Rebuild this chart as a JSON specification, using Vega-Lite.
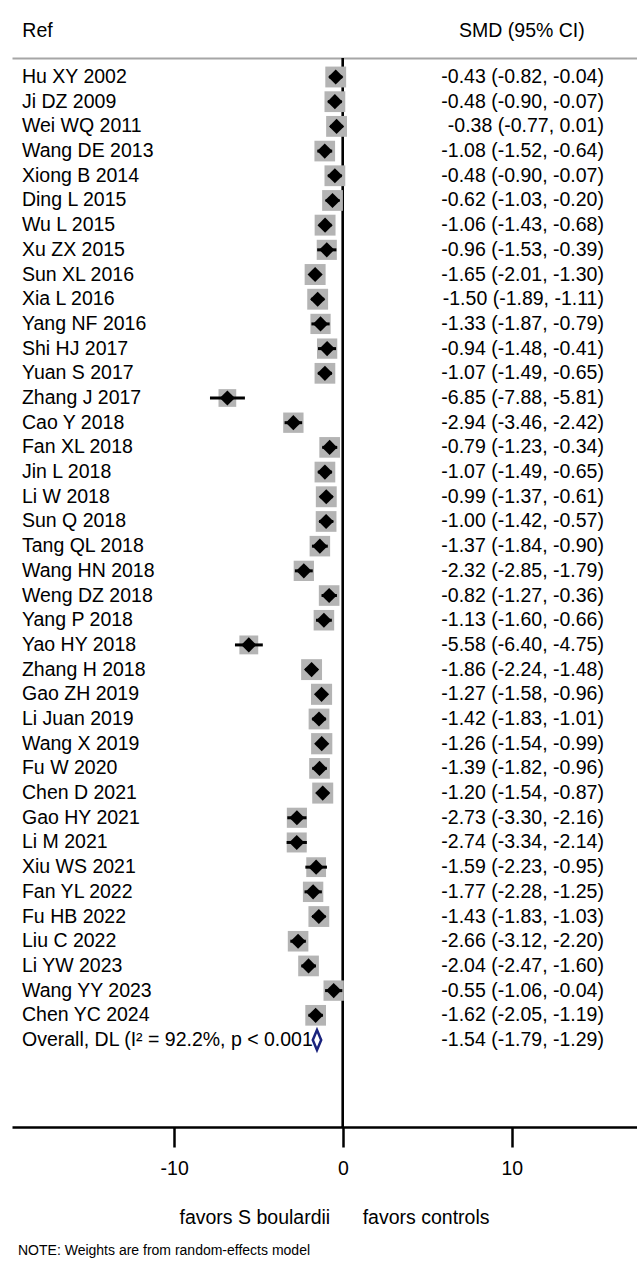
{
  "$schema": "https://vega.github.io/schema/vega-lite/v6.json",
  "autosize": "none",
  "padding": {"left": 12, "top": 58, "right": 0, "bottom": 150},
  "width": 625,
  "height": 1069,
  "config": {
    "view": {"stroke": null},
    "font": "Liberation Sans",
    "locale": {"number": {"decimal": ".", "thousands": ",", "grouping": [3], "currency": ["$", ""], "minus": "-"}}
  },
  "title": {
    "text": "NOTE: Weights are from random-effects model",
    "orient": "bottom",
    "anchor": "start",
    "frame": "group",
    "fontSize": 14,
    "fontWeight": "normal",
    "color": "#000000",
    "offset": 17,
    "dx": 6
  },
  "data": {
    "values": [
      {"study": "Hu XY 2002", "smd": -0.43, "lo": -0.82, "hi": -0.04, "weight": 2.63},
      {"study": "Ji DZ 2009", "smd": -0.48, "lo": -0.90, "hi": -0.07, "weight": 2.61},
      {"study": "Wei WQ 2011", "smd": -0.38, "lo": -0.77, "hi": 0.01, "weight": 2.63},
      {"study": "Wang DE 2013", "smd": -1.08, "lo": -1.52, "hi": -0.64, "weight": 2.58},
      {"study": "Xiong B 2014", "smd": -0.48, "lo": -0.90, "hi": -0.07, "weight": 2.61},
      {"study": "Ding L 2015", "smd": -0.62, "lo": -1.03, "hi": -0.20, "weight": 2.61},
      {"study": "Wu L 2015", "smd": -1.06, "lo": -1.43, "hi": -0.68, "weight": 2.64},
      {"study": "Xu ZX 2015", "smd": -0.96, "lo": -1.53, "hi": -0.39, "weight": 2.45},
      {"study": "Sun XL 2016", "smd": -1.65, "lo": -2.01, "hi": -1.30, "weight": 2.66},
      {"study": "Xia L 2016", "smd": -1.50, "lo": -1.89, "hi": -1.11, "weight": 2.63},
      {"study": "Yang NF 2016", "smd": -1.33, "lo": -1.87, "hi": -0.79, "weight": 2.48},
      {"study": "Shi HJ 2017", "smd": -0.94, "lo": -1.48, "hi": -0.41, "weight": 2.49},
      {"study": "Yuan S 2017", "smd": -1.07, "lo": -1.49, "hi": -0.65, "weight": 2.60},
      {"study": "Zhang J 2017", "smd": -6.85, "lo": -7.88, "hi": -5.81, "weight": 1.90},
      {"study": "Cao Y 2018", "smd": -2.94, "lo": -3.46, "hi": -2.42, "weight": 2.50},
      {"study": "Fan XL 2018", "smd": -0.79, "lo": -1.23, "hi": -0.34, "weight": 2.58},
      {"study": "Jin L 2018", "smd": -1.07, "lo": -1.49, "hi": -0.65, "weight": 2.60},
      {"study": "Li W 2018", "smd": -0.99, "lo": -1.37, "hi": -0.61, "weight": 2.64},
      {"study": "Sun Q 2018", "smd": -1.00, "lo": -1.42, "hi": -0.57, "weight": 2.60},
      {"study": "Tang QL 2018", "smd": -1.37, "lo": -1.84, "hi": -0.90, "weight": 2.55},
      {"study": "Wang HN 2018", "smd": -2.32, "lo": -2.85, "hi": -1.79, "weight": 2.49},
      {"study": "Weng DZ 2018", "smd": -0.82, "lo": -1.27, "hi": -0.36, "weight": 2.57},
      {"study": "Yang P 2018", "smd": -1.13, "lo": -1.60, "hi": -0.66, "weight": 2.55},
      {"study": "Yao HY 2018", "smd": -5.58, "lo": -6.40, "hi": -4.75, "weight": 2.15},
      {"study": "Zhang H 2018", "smd": -1.86, "lo": -2.24, "hi": -1.48, "weight": 2.64},
      {"study": "Gao ZH 2019", "smd": -1.27, "lo": -1.58, "hi": -0.96, "weight": 2.69},
      {"study": "Li Juan 2019", "smd": -1.42, "lo": -1.83, "hi": -1.01, "weight": 2.61},
      {"study": "Wang X 2019", "smd": -1.26, "lo": -1.54, "hi": -0.99, "weight": 2.72},
      {"study": "Fu W 2020", "smd": -1.39, "lo": -1.82, "hi": -0.96, "weight": 2.59},
      {"study": "Chen D 2021", "smd": -1.20, "lo": -1.54, "hi": -0.87, "weight": 2.67},
      {"study": "Gao HY 2021", "smd": -2.73, "lo": -3.30, "hi": -2.16, "weight": 2.45},
      {"study": "Li M 2021", "smd": -2.74, "lo": -3.34, "hi": -2.14, "weight": 2.42},
      {"study": "Xiu WS 2021", "smd": -1.59, "lo": -2.23, "hi": -0.95, "weight": 2.37},
      {"study": "Fan YL 2022", "smd": -1.77, "lo": -2.28, "hi": -1.25, "weight": 2.51},
      {"study": "Fu HB 2022", "smd": -1.43, "lo": -1.83, "hi": -1.03, "weight": 2.62},
      {"study": "Liu C 2022", "smd": -2.66, "lo": -3.12, "hi": -2.20, "weight": 2.56},
      {"study": "Li YW 2023", "smd": -2.04, "lo": -2.47, "hi": -1.60, "weight": 2.59},
      {"study": "Wang YY 2023", "smd": -0.55, "lo": -1.06, "hi": -0.04, "weight": 2.51},
      {"study": "Chen YC 2024", "smd": -1.62, "lo": -2.05, "hi": -1.19, "weight": 2.59},
      {"study": "Overall, DL (I² = 92.2%, p < 0.001", "smd": -1.54, "lo": -1.79, "hi": -1.29}
    ]
  },
  "transform": [
    {"calculate": "format(datum.smd, '.2f') + ' (' + format(datum.lo, '.2f') + ', ' + format(datum.hi, '.2f') + ')'", "as": "ci_text"}
  ],
  "resolve": {"axis": {"x": "independent"}},
  "layer": [
    {
      "mark": {"type": "rule", "color": "#000000", "strokeWidth": 2},
      "encoding": {
        "x": {
          "datum": 0,
          "type": "quantitative",
          "scale": {"domain": [-19.61, 17.42], "nice": false, "zero": false},
          "axis": {
            "orient": "top",
            "values": [-18.13, 10.57],
            "labelExpr": "datum.value < 0 ? 'Ref' : 'SMD (95% CI)'",
            "ticks": false,
            "grid": false,
            "domainColor": "#a6a6a6",
            "domainWidth": 2,
            "labelFontSize": 19.5,
            "labelColor": "#000000",
            "labelPadding": 18,
            "labelFlush": false,
            "labelOverlap": false,
            "title": null
          }
        }
      }
    },
    {
      "mark": {"type": "text", "align": "left", "baseline": "middle", "fontSize": 19.5, "color": "#000000"},
      "encoding": {
        "x": {"datum": -19.02, "type": "quantitative", "axis": null},
        "y": {"field": "study", "type": "nominal", "sort": null, "axis": null, "scale": {"range": [6.65, 994.35]}},
        "text": {"field": "study"}
      }
    },
    {
      "mark": {"type": "text", "align": "right", "baseline": "middle", "fontSize": 19.5, "color": "#000000"},
      "encoding": {
        "x": {"datum": 15.46, "type": "quantitative", "axis": null},
        "y": {"field": "study", "type": "nominal", "sort": null, "axis": null},
        "text": {"field": "ci_text"}
      }
    },
    {
      "transform": [{"filter": "isValid(datum.weight)"}],
      "mark": {"type": "point", "shape": "square", "filled": true, "color": "#b4b4b4", "opacity": 1},
      "encoding": {
        "x": {
          "field": "smd",
          "type": "quantitative",
          "scale": {"domain": [-19.61, 17.42], "nice": false, "zero": false},
          "axis": {
            "orient": "bottom",
            "values": [-10, 0, 10],
            "grid": false,
            "domainColor": "#000000",
            "domainWidth": 2.5,
            "tickColor": "#000000",
            "tickWidth": 2.5,
            "tickSize": 20,
            "labelFontSize": 19.5,
            "labelColor": "#000000",
            "labelPadding": 12,
            "labelFlush": false,
            "title": "favors S boulardii\u00a0\u00a0\u00a0\u00a0\u00a0\u00a0favors controls",
            "titleFontSize": 19.5,
            "titleFontWeight": "normal",
            "titleColor": "#000000",
            "titlePadding": 31,
            "titleX": 322,
            "titleAlign": "center"
          }
        },
        "y": {"field": "study", "type": "nominal", "sort": null, "axis": null},
        "size": {"field": "weight", "type": "quantitative", "legend": null, "scale": {"domain": [0, 3], "range": [0, 496]}}
      }
    },
    {
      "transform": [{"filter": "isValid(datum.weight)"}],
      "mark": {"type": "rule", "color": "#000000", "strokeWidth": 3},
      "encoding": {
        "x": {"field": "lo", "type": "quantitative", "axis": null},
        "x2": {"field": "hi"},
        "y": {"field": "study", "type": "nominal", "sort": null, "axis": null}
      }
    },
    {
      "transform": [{"filter": "isValid(datum.weight)"}],
      "mark": {"type": "point", "shape": "diamond", "filled": true, "color": "#000000", "opacity": 1, "size": 230},
      "encoding": {
        "x": {"field": "smd", "type": "quantitative", "axis": null},
        "y": {"field": "study", "type": "nominal", "sort": null, "axis": null}
      }
    },
    {
      "transform": [{"filter": "!isValid(datum.weight)"}],
      "mark": {"type": "point", "shape": "M-0.42,0L0,-1L0.42,0L0,1Z", "filled": false, "stroke": "#1a237e", "strokeWidth": 2.5, "opacity": 1, "size": 400},
      "encoding": {
        "x": {"field": "smd", "type": "quantitative", "axis": null},
        "y": {"field": "study", "type": "nominal", "sort": null, "axis": null}
      }
    }
  ]
}
